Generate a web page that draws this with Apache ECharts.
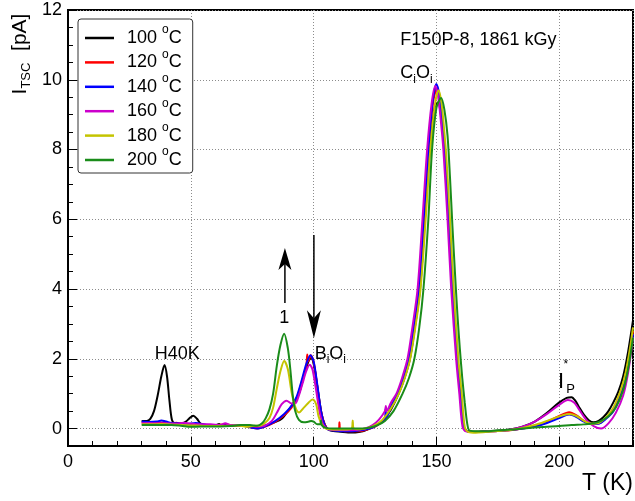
<!DOCTYPE html>
<html><head><meta charset="utf-8">
<script src="https://cdn.jsdelivr.net/npm/echarts@6/dist/echarts.min.js"></script>
<style>html,body{margin:0;padding:0;background:#fff}#c{width:635px;height:501px}</style>
</head><body><div id="c"></div>
<script>
const FONT = '"Liberation Sans", Arial, Helvetica, sans-serif';
const seriesNames = ['100 °C','120 °C','140 °C','160 °C','180 °C','200 °C'];
const seriesColors = ['#000000','#ff0000','#0000ff','#cc00cc','#c4c400','#1a8c1a'];

// TSC current I [pA] vs temperature T [K], one array per annealing temperature
const d100 = [[30,0.22],[32,0.22],[33.5,0.28],[35,0.5],[36.5,0.95],[38,1.5],[39.3,1.82],[40.3,1.5],[41.3,0.8],[42.3,0.25],[43.5,0.15],[46,0.14],[48,0.2],[49.5,0.3],[51,0.37],[52.5,0.28],[54,0.14],[57,0.1],[60,0.09],[61.5,0.13],[62.5,0.08],[66,0.08],[70,0.08],[72,0.1],[74,0.06],[76,0.02],[78,0.04],[81,0.1],[84,0.18],[87,0.28],[90,0.55],[92,0.75],[94,1.0],[96,1.5],[98,1.95],[99,2.02],[100.3,1.75],[101.8,1.05],[103.3,0.4],[104.6,0.1],[106,-0.03],[108,-0.07],[111,-0.09],[114,-0.11],[117,-0.11],[120,-0.08],[122,-0.02],[125,0.08],[128,0.22],[131.5,0.55],[134.6,1.0],[137,1.45],[139.2,2.0],[141.2,2.9],[143.3,4.0],[145.3,6.0],[147.3,8.0],[149.2,9.2],[150.6,9.35],[151.8,9.0],[152.8,8.3],[153.6,7.6],[155.3,5.6],[156.8,3.8],[158.7,1.9],[160,0.9],[161.2,0.05],[162.7,-0.08],[166,-0.09],[170,-0.08],[175,-0.06],[180,-0.03],[185,0.05],[190,0.2],[195,0.45],[200,0.75],[203,0.88],[205,0.9],[206.5,0.8],[208,0.62],[210,0.4],[212,0.24],[214,0.18],[216,0.22],[218,0.33],[220,0.5],[222,0.75],[224,1.05],[226,1.5],[228,2.2],[230,3.1]];
const d120 = [[30,0.18],[33,0.17],[36,0.18],[39,0.17],[42,0.14],[44,0.17],[46,0.15],[48,0.12],[52,0.13],[56,0.1],[60,0.1],[64,0.12],[68,0.08],[72,0.07],[75,0.02],[77,0.0],[80,0.05],[84,0.18],[88,0.38],[91,0.6],[93,0.85],[95,1.3],[97,1.8],[97.4,2.12],[97.8,1.92],[98.8,2.1],[100,1.9],[101.5,1.2],[103,0.5],[104.5,0.12],[106,-0.02],[108,-0.05],[110.2,-0.05],[110.5,0.18],[110.8,-0.05],[114,-0.08],[117,-0.08],[120,-0.06],[123,0.0],[126,0.1],[129,0.3],[131.5,0.6],[134.3,1.0],[136.6,1.45],[138.8,2.0],[140.8,2.9],[142.9,4.0],[144.9,6.0],[146.8,8.0],[148.6,9.35],[150.2,9.75],[151.5,9.4],[152.5,8.7],[153.4,8.0],[155.1,6.0],[156.6,4.0],[158.6,2.0],[159.9,1.0],[161.1,0.05],[162.6,-0.08],[166,-0.1],[170,-0.08],[175,-0.07],[180,-0.05],[185,0.0],[190,0.08],[195,0.2],[200,0.36],[204,0.47],[207,0.38],[210,0.22],[213,0.14],[216,0.15],[219,0.3],[222,0.55],[225,1.0],[227,1.5],[229,2.3],[230,2.8]];
const d140 = [[30,0.2],[33,0.19],[36,0.2],[38,0.23],[40,0.2],[42,0.16],[45,0.15],[48,0.13],[52,0.16],[56,0.11],[60,0.1],[64,0.09],[68,0.08],[72,0.07],[75,0.02],[77,0.0],[80,0.06],[84,0.2],[88,0.42],[91,0.65],[93,0.9],[95,1.35],[97,1.85],[98.7,2.1],[100,1.92],[101.5,1.25],[103,0.5],[104.5,0.1],[106,-0.03],[109,-0.06],[112,-0.08],[115,-0.08],[118,-0.06],[121,-0.03],[124,0.03],[127,0.15],[129,0.25],[129.3,0.57],[129.6,0.3],[131.5,0.65],[134.2,1.0],[136.5,1.45],[138.7,2.0],[140.7,2.9],[142.8,4.0],[144.8,6.0],[146.7,8.0],[148.5,9.4],[150,9.88],[151.3,9.5],[152.3,8.8],[153.3,8.0],[155,6.0],[156.5,4.0],[158.5,2.0],[159.8,1.0],[161,0.05],[162.5,-0.08],[166,-0.1],[170,-0.08],[175,-0.07],[180,-0.04],[185,0.0],[190,0.06],[195,0.16],[200,0.3],[204,0.4],[207,0.33],[210,0.2],[213,0.13],[216,0.14],[219,0.28],[222,0.5],[225,0.95],[227,1.45],[229,2.2],[230,2.7]];
const d160 = [[30,0.15],[33,0.16],[36,0.15],[40,0.15],[44,0.14],[47,0.17],[50,0.14],[54,0.12],[58,0.12],[62,0.1],[64,0.15],[66,0.1],[70,0.08],[74,0.08],[77,0.05],[80,0.08],[83,0.22],[85,0.45],[87,0.7],[89,0.8],[91,0.72],[92.5,0.72],[94,0.95],[95.5,1.3],[97,1.65],[98.4,1.83],[99.5,1.7],[101,1.1],[102.5,0.45],[104,0.1],[106,-0.02],[109,-0.04],[113,-0.05],[117,-0.04],[121,0.0],[124,0.1],[126.5,0.25],[129,0.5],[129.4,0.65],[129.7,0.5],[131.5,0.75],[133.7,1.0],[136,1.45],[138.2,2.0],[140.2,2.9],[142.3,4.0],[144.3,6.0],[146.2,8.0],[148,9.3],[149.5,9.82],[150.7,9.5],[151.8,8.8],[152.8,8.0],[154.5,6.0],[156,4.0],[158,2.0],[159.3,1.0],[160.6,0.05],[162,-0.08],[166,-0.1],[170,-0.08],[175,-0.07],[180,-0.03],[185,0.05],[190,0.2],[195,0.42],[200,0.68],[203.5,0.82],[206,0.75],[208,0.55],[211,0.25],[214,0.07],[217,0.0],[220,0.15],[223,0.45],[226,0.95],[228,1.6],[230,2.6]];
const d180 = [[30,0.12],[34,0.12],[38,0.13],[42,0.12],[46,0.1],[50,0.09],[54,0.08],[58,0.07],[62,0.07],[66,0.08],[70,0.08],[73,0.05],[76,0.08],[78,0.08],[80,0.15],[82,0.3],[83.5,0.6],[85,1.15],[86.5,1.65],[88,1.94],[89.5,1.7],[91,1.05],[92.5,0.62],[94,0.46],[96,0.6],[98,0.75],[99.5,0.83],[101,0.7],[102,0.35],[103.5,0.1],[105,0.0],[108,-0.03],[112,-0.03],[115.5,0.0],[115.9,0.23],[116.3,0.0],[119,-0.02],[122,0.02],[125,0.1],[128,0.25],[131.5,0.58],[134.7,1.0],[137.1,1.45],[139.3,2.0],[141.4,2.9],[143.5,4.0],[145.6,6.0],[147.5,8.0],[149.4,9.3],[150.9,9.7],[152.1,9.3],[153.2,8.5],[154,7.8],[155.5,6.0],[157,4.0],[158.9,2.0],[160.3,1.0],[161.5,0.05],[163,-0.1],[166,-0.12],[170,-0.1],[175,-0.07],[180,-0.04],[185,0.02],[190,0.1],[195,0.22],[200,0.35],[204,0.42],[207,0.36],[210,0.22],[213,0.14],[216,0.16],[219,0.32],[222,0.6],[225,1.1],[227,1.6],[229,2.4],[230,2.9]];
const d200 = [[30,0.1],[34,0.1],[38,0.1],[42,0.1],[46,0.08],[50,0.05],[54,0.06],[58,0.06],[62,0.06],[66,0.07],[70,0.1],[74,0.1],[77,0.08],[79,0.15],[80.5,0.3],[82,0.55],[83.5,1.0],[85,1.8],[86.5,2.4],[88,2.72],[89.5,2.3],[90.5,1.7],[91.5,0.95],[92.5,0.5],[94,0.25],[96,0.18],[98,0.2],[99,0.22],[100,0.2],[101.5,0.12],[102.7,0.12],[103,0.23],[103.3,0.1],[105,0.02],[108,0.0],[112,0.0],[116,0.0],[120,0.0],[123,0.03],[126,0.1],[129,0.22],[132.5,0.5],[136.2,1.0],[138.8,1.45],[141,2.0],[143,2.9],[144.7,4.0],[146.7,6.0],[148.2,8.0],[150,9.2],[151.9,9.48],[153.2,9.15],[154.5,8.4],[155.5,7.2],[156.5,5.8],[157.5,4.5],[158.5,3.3],[159.5,2.3],[160.5,1.45],[161.5,0.75],[162.5,0.15],[163.5,-0.06],[167,-0.08],[170,-0.08],[175,-0.05],[180,-0.03],[185,0.0],[190,0.03],[195,0.05],[200,0.07],[205,0.1],[210,0.12],[214,0.15],[217,0.22],[220,0.35],[223,0.6],[226,1.1],[228,1.7],[230,2.6]];
const seriesData = [d100, d120, d140, d160, d180, d200];

// annotation anchors in data coordinates (T, I)
const noteSample = {text: 'F150P-8, 1861 kGy', T: 135.3, I: 11.14};
const noteCiOi = {T: 135.3, I: 10.18};
const noteH40K = {text: 'H40K', T: 35.3, I: 2.15};
const noteOne = {text: '1', T: 88.0, I: 3.17};
const noteBiOi = {T: 100.4, I: 2.15};
const noteIP = {T: 199.5, I: 1.35};
const arrowUp = {T: 88.3, from: 3.6, to: 5.18};
const arrowDown = {T: 100.1, from: 5.55, to: 2.59};

const chart = echarts.init(document.getElementById('c'), null, {renderer: 'canvas'});
const dotted = {color: '#8c8c8c', width: 1, type: [1, 2]};
const option = {
  animation: false,
  backgroundColor: '#fff',
  textStyle: {fontFamily: FONT},
  grid: {left: 68, right: 2, top: 10, bottom: 55, show: true, borderColor: '#000', borderWidth: 2, backgroundColor: 'transparent'},
  legend: {
    orient: 'vertical', left: 78, top: 19, padding: [5, 11, 4, 7],
    icon: 'rect', itemWidth: 29, itemHeight: 2.5, itemGap: 1.4,
    borderColor: '#333', borderWidth: 1, borderRadius: 3, backgroundColor: '#fff',
    data: seriesNames,
    formatter: n => '{a|' + n.split(' ')[0] + ' }{s|o}{n|C}',
    textStyle: {rich: {
      a: {fontSize: 18, fontFamily: FONT, color: '#000', lineHeight: 28, padding: [0, 0, 0, 8]},
      n: {fontSize: 18, fontFamily: FONT, color: '#000', lineHeight: 28},
      s: {fontSize: 12, fontFamily: FONT, color: '#000', lineHeight: 12, verticalAlign: 'top'}
    }}
  },
  xAxis: [
    {type: 'value', min: 0, max: 230, interval: 50, position: 'bottom',
     axisLine: {show: true, onZero: false, lineStyle: {color: '#000', width: 2}},
     axisTick: {inside: true, length: 9, lineStyle: {color: '#000', width: 1}},
     axisLabel: {fontSize: 18, color: '#000', fontFamily: FONT, margin: 7, showMaxLabel: false},
     splitLine: {show: true, lineStyle: dotted}},
    {type: 'value', min: 0, max: 230, interval: 10, position: 'bottom',
     axisLine: {show: false, onZero: false}, axisTick: {inside: true, length: 5, lineStyle: {color: '#000', width: 1}},
     axisLabel: {show: false}, splitLine: {show: false}}
  ],
  yAxis: [
    {type: 'value', min: -0.5, max: 12, splitNumber: 6,
     axisLine: {show: true, onZero: false, lineStyle: {color: '#000', width: 2}},
     axisTick: {inside: true, length: 9, lineStyle: {color: '#000', width: 1}},
     axisLabel: {fontSize: 18, color: '#000', fontFamily: FONT, margin: 6, showMinLabel: false},
     splitLine: {show: true, lineStyle: dotted}},
    {type: 'value', min: -0.5, max: 12, interval: 0.5, position: 'left',
     axisLine: {show: false, onZero: false}, axisTick: {inside: true, length: 5, lineStyle: {color: '#000', width: 1}},
     axisLabel: {show: false}, splitLine: {show: false}}
  ],
  series: seriesNames.map((name, i) => ({
    name, type: 'line', data: seriesData[i], xAxisIndex: 0, yAxisIndex: 0,
    symbol: 'none', showSymbol: false, smooth: 0.3,
    lineStyle: {color: seriesColors[i], width: 2}, itemStyle: {color: seriesColors[i]}
  }))
};
chart.setOption(option);

const P = (T, I) => chart.convertToPixel({xAxisIndex: 0, yAxisIndex: 0}, [T, I]);
const rich18 = {
  m: {fontSize: 18, fontFamily: FONT, fill: '#000', lineHeight: 24},
  s: {fontSize: 12, fontFamily: FONT, fill: '#000', lineHeight: 12, verticalAlign: 'bottom'}
};
function txt(T, I, text, opts) {
  const p = P(T, I);
  return Object.assign({type: 'text', x: p[0], y: p[1], silent: true, z: 100,
    style: Object.assign({text, fontSize: 18, fontFamily: FONT, fill: '#000', align: 'left', verticalAlign: 'middle'}, opts || {})});
}
function arrow(a, headLen, headW, notch) {
  const p0 = P(a.T, a.from), p1 = P(a.T, a.to);
  const dir = p1[1] < p0[1] ? -1 : 1;
  const x = p0[0], tipY = p1[1], baseY = tipY - dir * headLen, notchY = tipY - dir * (headLen - notch);
  return [
    {type: 'line', silent: true, z: 100, shape: {x1: x, y1: p0[1], x2: x, y2: notchY}, style: {stroke: '#000', lineWidth: 1.5}},
    {type: 'polygon', silent: true, z: 100, shape: {points: [[x, tipY], [x - headW / 2, baseY], [x, notchY], [x + headW / 2, baseY]]}, style: {fill: '#000'}}
  ];
}
const graphic = [
  txt(noteSample.T, noteSample.I, noteSample.text),
  txt(noteCiOi.T, noteCiOi.I, '{m|C}{s|i}{m|O}{s|i}', {rich: rich18}),
  txt(noteH40K.T, noteH40K.I, noteH40K.text),
  txt(noteOne.T, noteOne.I, noteOne.text, {align: 'center'}),
  txt(noteBiOi.T, noteBiOi.I, '{m|B}{s|i}{m|O}{s|i}', {rich: rich18}),
  txt(noteIP.T, noteIP.I, '{m|I}{s|P}', {rich: {
    m: {fontSize: 22, fontFamily: FONT, fill: '#000', lineHeight: 28},
    s: {fontSize: 13, fontFamily: FONT, fill: '#000', lineHeight: 13, verticalAlign: 'bottom', padding: [0, 0, 0, 2]}
  }}),
  txt(noteIP.T + 3.2, noteIP.I + 0.47, '*', {fontSize: 12, align: 'center'}),
  ...arrow(arrowUp, 22, 13, 6),
  ...arrow(arrowDown, 28, 14, 8),
  {type: 'text', x: 633, y: 484, silent: true, style: {text: 'T (K)', fontSize: 23, fontFamily: FONT, fill: '#000', align: 'right', verticalAlign: 'middle'}},
  {type: 'text', x: 20, y: 54, rotation: Math.PI / 2, silent: true, style: {
    text: '{m|I}{s|TSC}{m|  [pA]}', align: 'center', verticalAlign: 'middle',
    rich: {
      m: {fontSize: 21, fontFamily: FONT, fill: '#000', lineHeight: 26},
      s: {fontSize: 13, fontFamily: FONT, fill: '#000', lineHeight: 14, verticalAlign: 'bottom'}
    }}}
];
chart.setOption({graphic});
</script>
</body></html>
